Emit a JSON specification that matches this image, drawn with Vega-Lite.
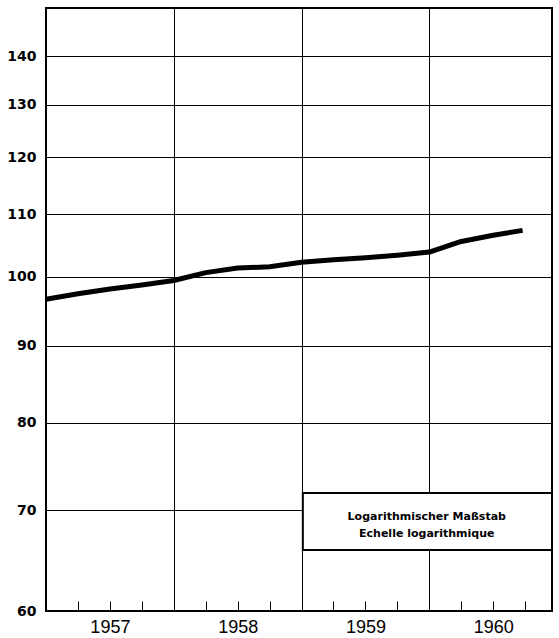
{
  "$schema": "https://vega.github.io/schema/vega-lite/v6.json",
  "width": 506,
  "height": 603,
  "autosize": {"type": "none"},
  "padding": {"left": 46, "top": 8, "right": 7, "bottom": 27},
  "background": "white",
  "config": {
    "view": {"stroke": "black", "strokeWidth": 2},
    "font": "Liberation Sans"
  },
  "resolve": {"axis": {"x": "independent"}},
  "data": {
    "values": [
      {"t": 1957.0, "v": 96.6},
      {"t": 1957.25, "v": 97.4},
      {"t": 1957.5, "v": 98.1},
      {"t": 1957.75, "v": 98.7},
      {"t": 1958.0, "v": 99.4},
      {"t": 1958.25, "v": 100.6},
      {"t": 1958.5, "v": 101.3},
      {"t": 1958.75, "v": 101.5},
      {"t": 1959.0, "v": 102.2},
      {"t": 1959.25, "v": 102.6},
      {"t": 1959.5, "v": 102.9},
      {"t": 1959.75, "v": 103.3},
      {"t": 1960.0, "v": 103.8},
      {"t": 1960.25, "v": 105.5},
      {"t": 1960.5, "v": 106.5},
      {"t": 1960.73, "v": 107.3}
    ]
  },
  "layer": [
    {
      "data": {"values": [{"label": "Logarithmischer Maßstab\nEchelle logarithmique"}]},
      "mark": {"type": "rect", "fill": "white", "stroke": "black", "strokeWidth": 2},
      "encoding": {
        "x": {
          "datum": 1959.01,
          "type": "quantitative",
          "scale": {"domain": [1957, 1960.96], "nice": false, "zero": false},
          "axis": {
            "orient": "bottom",
            "title": null,
            "values": [1958, 1959, 1960],
            "grid": true,
            "gridColor": "black",
            "gridWidth": 1,
            "domain": false,
            "ticks": false,
            "labels": false
          }
        },
        "x2": {"datum": 1960.96},
        "y": {
          "datum": 65.86,
          "type": "quantitative",
          "scale": {"type": "log", "domain": [60, 150.7], "nice": false},
          "axis": {
            "title": null,
            "values": [60, 70, 80, 90, 100, 110, 120, 130, 140],
            "grid": true,
            "gridColor": "black",
            "gridWidth": 1,
            "gridOpacity": 1,
            "domain": false,
            "ticks": false,
            "labelFont": "DejaVu Sans",
            "labelFontWeight": "bold",
            "labelFontSize": 14,
            "labelColor": "black",
            "labelPadding": 10,
            "labelOverlap": false,
            "labelBound": false,
            "labelFlush": false
          }
        },
        "y2": {"datum": 71.85}
      }
    },
    {
      "mark": {"type": "line", "color": "black", "strokeWidth": 5, "strokeJoin": "round", "strokeCap": "butt"},
      "encoding": {
        "x": {
          "field": "t",
          "type": "quantitative",
          "axis": {
            "orient": "bottom",
            "title": null,
            "values": [1957.25, 1957.5, 1957.75, 1958.25, 1958.5, 1958.75, 1959.25, 1959.5, 1959.75, 1960.25, 1960.5, 1960.75],
            "grid": false,
            "domain": false,
            "ticks": true,
            "tickSize": -10,
            "tickColor": "black",
            "tickWidth": 1,
            "labelExpr": "(datum.value % 1) == 0.5 ? toString(floor(datum.value)) : ''",
            "labelOverlap": false,
            "labelBound": false,
            "labelFlush": false,
            "labelFont": "Liberation Sans",
            "labelFontSize": 18,
            "labelColor": "black",
            "labelPadding": 17
          }
        },
        "y": {"field": "v", "type": "quantitative"}
      }
    },
    {
      "data": {"values": [{"label": "Logarithmischer Maßstab\nEchelle logarithmique"}]},
      "mark": {"type": "text", "font": "DejaVu Sans", "fontWeight": "bold", "fontSize": 11, "lineBreak": "\n", "lineHeight": 17, "align": "center", "baseline": "middle", "color": "black"},
      "encoding": {
        "x": {"datum": 1959.98, "type": "quantitative", "axis": null},
        "y": {"datum": 69.3, "type": "quantitative"},
        "text": {"field": "label"}
      }
    }
  ]
}
